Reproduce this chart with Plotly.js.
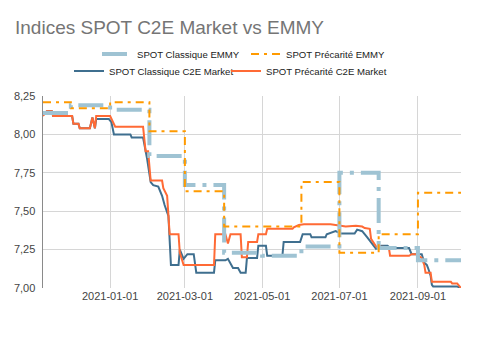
<!DOCTYPE html>
<html>
<head>
<meta charset="utf-8">
<script src="https://cdn.plot.ly/plotly-3.0.1.min.js"></script>
<style>html,body{margin:0;padding:0;background:#fff;}#chart{width:492px;height:351px;}</style>
</head>
<body>
<div id="chart"></div>
<script>
// Monthly EMMY indices
const emmyDates = ['2020-11-09','2020-12-01','2021-01-01','2021-02-01','2021-03-01','2021-04-01','2021-05-01','2021-06-01','2021-07-01','2021-08-01','2021-09-01','2021-10-01','2021-10-05'];
const emmyClassique = [8.14, 8.19, 8.16, 7.86, 7.67, 7.23, 7.21, 7.27, 7.75, 7.26, 7.18, 7.18, 7.18];
const emmyPrecarite = [8.21, 8.17, 8.21, 8.02, 7.63, 7.40, 7.40, 7.69, 7.23, 7.35, 7.62, 7.62, 7.62];

// C2E Market SPOT Classique
const c2eClassiqueDates = ['2020-11-09','2020-11-12','2020-11-16','2020-11-17','2020-12-02','2020-12-03','2020-12-07','2020-12-08','2020-12-16','2020-12-18','2020-12-20','2020-12-21','2020-12-31','2021-01-02','2021-01-04','2021-01-17','2021-01-18','2021-01-27','2021-01-30','2021-02-02','2021-02-04','2021-02-08','2021-02-11','2021-02-13','2021-02-16','2021-02-18','2021-02-24','2021-02-25','2021-02-28','2021-03-03','2021-03-08','2021-03-10','2021-03-24','2021-03-25','2021-04-02','2021-04-04','2021-04-08','2021-04-12','2021-04-14','2021-04-18','2021-04-19','2021-04-27','2021-04-28','2021-05-04','2021-05-05','2021-05-17','2021-05-18','2021-05-31','2021-06-02','2021-06-08','2021-06-09','2021-06-20','2021-06-21','2021-06-28','2021-07-02','2021-07-13','2021-07-15','2021-07-19','2021-07-23','2021-07-27','2021-07-30','2021-08-03','2021-08-08','2021-08-10','2021-08-25','2021-08-27','2021-09-04','2021-09-06','2021-09-08','2021-09-09','2021-09-11','2021-09-12','2021-09-13','2021-10-02','2021-10-05'];
const c2eClassiqueVals = [8.13,8.15,8.15,8.12,8.12,8.07,8.07,8.04,8.04,8.11,8.04,8.10,8.10,8.08,8.00,8.00,7.98,7.98,7.85,7.69,7.67,7.66,7.60,7.54,7.47,7.15,7.15,7.25,7.19,7.22,7.22,7.10,7.10,7.18,7.18,7.19,7.13,7.13,7.10,7.10,7.195,7.195,7.275,7.275,7.21,7.21,7.30,7.30,7.35,7.35,7.33,7.33,7.35,7.37,7.355,7.355,7.38,7.37,7.33,7.29,7.255,7.275,7.275,7.26,7.26,7.22,7.22,7.165,7.15,7.13,7.08,7.02,7.01,7.01,7.00];

// C2E Market SPOT Précarité
const c2ePrecariteDates = ['2020-11-09','2020-11-12','2020-11-16','2020-11-17','2020-12-02','2020-12-03','2020-12-07','2020-12-08','2020-12-16','2020-12-18','2020-12-20','2020-12-21','2021-01-01','2021-01-02','2021-01-05','2021-01-27','2021-01-29','2021-01-31','2021-02-02','2021-02-11','2021-02-12','2021-02-15','2021-02-17','2021-02-24','2021-02-25','2021-02-28','2021-03-24','2021-03-25','2021-04-02','2021-04-04','2021-04-06','2021-04-14','2021-04-15','2021-04-19','2021-04-20','2021-04-27','2021-04-28','2021-05-04','2021-05-05','2021-05-25','2021-05-26','2021-05-30','2021-06-03','2021-06-24','2021-07-06','2021-07-14','2021-07-19','2021-07-21','2021-07-25','2021-07-26','2021-07-29','2021-07-30','2021-08-09','2021-08-10','2021-08-25','2021-08-27','2021-08-31','2021-09-04','2021-09-06','2021-09-07','2021-09-11','2021-09-12','2021-09-27','2021-09-28','2021-10-02','2021-10-05'];
const c2ePrecariteVals = [8.12,8.15,8.15,8.12,8.12,8.07,8.07,8.04,8.04,8.11,8.04,8.12,8.12,8.10,8.05,8.05,7.89,7.89,7.70,7.70,7.65,7.60,7.35,7.35,7.23,7.15,7.15,7.35,7.35,7.29,7.35,7.35,7.20,7.20,7.30,7.30,7.35,7.35,7.385,7.385,7.395,7.41,7.415,7.415,7.40,7.405,7.40,7.39,7.385,7.32,7.28,7.27,7.265,7.21,7.21,7.22,7.22,7.195,7.15,7.10,7.10,7.04,7.04,7.03,7.03,7.00];

const yTicks = [7.00, 7.25, 7.50, 7.75, 8.00, 8.25];
const xTicks = ['2021-01-01','2021-03-01','2021-05-01','2021-07-01','2021-09-01'];

const FONT = 'Liberation Sans, Arial, sans-serif';

const traces = [
  {x: c2eClassiqueDates, y: c2eClassiqueVals, name: 'SPOT Classique C2E Market', type: 'scatter', mode: 'lines',
   line: {color: '#3f6f8f', width: 2}, legend: 'legend3'},
  {x: c2ePrecariteDates, y: c2ePrecariteVals, name: 'SPOT Précarité C2E Market', type: 'scatter', mode: 'lines',
   line: {color: '#ff6a35', width: 2}, legend: 'legend4'},
  {x: emmyDates, y: emmyClassique, name: 'SPOT Classique EMMY', type: 'scatter', mode: 'lines',
   line: {color: '#9fc3d3', width: 4, shape: 'hv', dash: '25px,7px,4px,7px'}, legend: 'legend'},
  {x: emmyDates, y: emmyPrecarite, name: 'SPOT Précarité EMMY', type: 'scatter', mode: 'lines',
   line: {color: '#ff9a00', width: 2, shape: 'hv', dash: '8px,5px,3px,5px'}, legend: 'legend2'}
];

const legendBase = {orientation: 'h', xref: 'container', yref: 'container', xanchor: 'left', yanchor: 'middle',
  font: {family: FONT, size: 9.6, color: '#222'}, bgcolor: 'rgba(0,0,0,0)', traceorder: 'normal'};

const layout = {
  width: 492, height: 351,
  margin: {l: 43, r: 31, t: 96, b: 63, pad: 0},
  paper_bgcolor: '#ffffff', plot_bgcolor: '#ffffff',
  separators: ',.',
  font: {family: FONT, size: 11, color: '#444'},
  title: {text: 'Indices SPOT C2E Market vs EMMY', xref: 'container', yref: 'container', x: 15/492, xanchor: 'left',
          y: 1 - 27/351, yanchor: 'middle', font: {family: FONT, size: 19, color: '#757575'}},
  showlegend: true,
  legend: Object.assign({}, legendBase, {x: 97/492, y: 1 - 54/351}),
  legend2: Object.assign({}, legendBase, {x: 246/492, y: 1 - 54/351}),
  legend3: Object.assign({}, legendBase, {x: 69/492, y: 1 - 71/351}),
  legend4: Object.assign({}, legendBase, {x: 226/492, y: 1 - 71/351}),
  xaxis: {type: 'date', range: ['2020-11-09', '2021-10-05'], tickvals: xTicks, ticktext: xTicks,
          showgrid: true, gridcolor: '#d6d6d6', gridwidth: 1, zeroline: false, showline: false,
          ticks: '', tickfont: {family: FONT, size: 11, color: '#444'}, fixedrange: true},
  yaxis: {range: [7, 8.25], tickvals: yTicks, tickformat: '.2f', showgrid: true, gridcolor: '#d6d6d6', gridwidth: 1,
          zeroline: false, showline: true, linecolor: '#8a8a8a', linewidth: 1.5, ticks: 'outside', ticklen: 4,
          tickcolor: 'rgba(0,0,0,0)', tickfont: {family: FONT, size: 11, color: '#444'}, fixedrange: true},
  annotations: [{text: 'Sources : C2EMarket & EMMY', xref: 'container', yref: 'container', x: 252/492, y: 1 - 327/351,
                 xanchor: 'center', yanchor: 'middle', showarrow: false, font: {family: FONT, size: 9.5, color: '#222'}}]
};

Plotly.newPlot('chart', traces, layout, {displayModeBar: false, staticPlot: true});
</script>
</body>
</html>
